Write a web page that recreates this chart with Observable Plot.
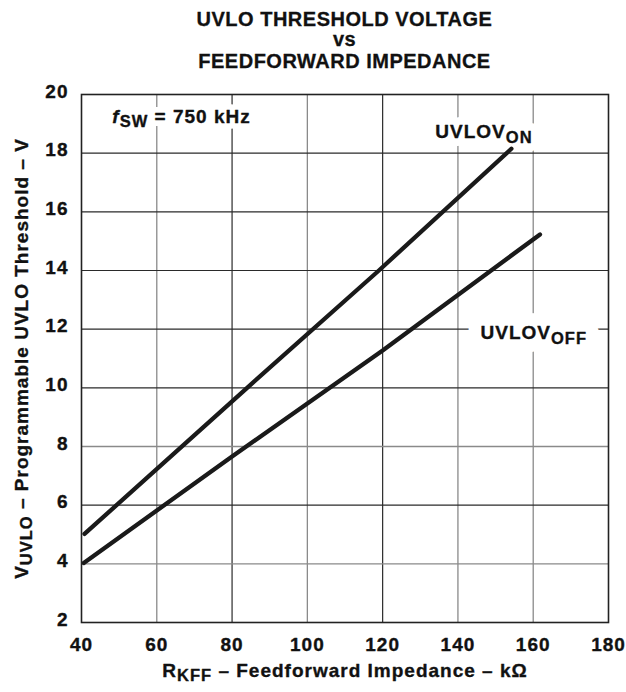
<!DOCTYPE html>
<html>
<head>
<meta charset="utf-8">
<script src="https://cdn.jsdelivr.net/npm/d3@7"></script>
<script src="https://cdn.jsdelivr.net/npm/@observablehq/plot@0.6"></script>
<style>
  body { margin: 0; background: #fff; }
  #wrap { width: 626px; }
  #title { position: relative; height: 80px; font-family: "Liberation Sans", Arial, sans-serif; font-weight: bold; font-size: 20px; letter-spacing: 0.5px; color: #111; -webkit-text-stroke: 0.3px #111; }
  #title div { position: absolute; left: 62px; width: 565px; text-align: center; line-height: 18px; white-space: nowrap; }
</style>
</head>
<body>
<div id="wrap">
  <div id="title">
    <div style="top:9.8px">UVLO THRESHOLD VOLTAGE</div>
    <div style="top:30px">vs</div>
    <div style="top:52px">FEEDFORWARD IMPEDANCE</div>
  </div>
  <div id="chart"></div>
</div>
<script>
// ---- data ----
const xTicks = [40, 60, 80, 100, 120, 140, 160, 180];
const yTicks = [2, 4, 6, 8, 10, 12, 14, 16, 18, 20];

// UVLOV_ON curve (R_KFF in kΩ, threshold in V)
const onR = [40.8, 84, 119, 154.2];
const onV = [5.02, 10.0, 14.0, 18.15];

// UVLOV_OFF curve
const offR = [40.6, 80, 120, 161.8];
const offV = [4.03, 7.66, 11.27, 15.23];

// annotation texts
const noteText = ["*{f}_{SW} = 750 kHz"];
const noteX = [48.2];
const noteY = [19.25];
const onLabel = ["UVLOV_{ON}"];
const onLabelX = [134.0];
const onLabelY = [18.72];
const offLabel = ["UVLOV_{OFF}"];
const offLabelX = [146.0];
const offLabelY = [11.87];

const xTitle = "R_{KFF} – Feedforward Impedance – kΩ";
const yTitle = "V_{UVLO} – Programmable UVLO Threshold – V";

// ---- tables ----
const onData = onR.map((r, i) => ({r, v: onV[i]}));
const offData = offR.map((r, i) => ({r, v: offV[i]}));
const mk = (t, xs, ys) => t.map((s, i) => ({s, x: xs[i], y: ys[i]}));

const lightX = xTicks.filter(v => v === 60 || v === 100 || v === 140 || v === 160);
const darkX = xTicks.filter(v => v === 80 || v === 120);
const lightY = yTicks.filter(v => v === 4 || v === 8);
const darkY = yTicks.filter(v => v !== 2 && v !== 20 && v !== 4 && v !== 8);

const FONT = '"Liberation Sans", Arial, sans-serif';
const INK = "#111";
const bold = {stroke: INK, strokeWidth: 0.35};

const notes = [
  [mk(noteText, noteX, noteY), 12],
  [mk(onLabel, onLabelX, onLabelY), 16],
  [mk(offLabel, offLabelX, offLabelY), 26]
];

const plot = Plot.plot({
  width: 626,
  height: 612,
  marginTop: 14,
  marginBottom: 70,
  marginLeft: 81,
  marginRight: 18,
  style: {fontFamily: FONT, fontSize: "19px", fontWeight: "bold", letterSpacing: "1px", color: INK, background: "#fff"},
  x: {domain: [40, 180]},
  y: {domain: [2, 20]},
  marks: [
    Plot.ruleX(lightX, {stroke: "#8a8a8a", strokeWidth: 1.3}),
    Plot.ruleX(darkX, {stroke: "#2a2a2a", strokeWidth: 1.2}),
    Plot.ruleY(lightY, {stroke: "#8a8a8a", strokeWidth: 1.3}),
    Plot.ruleY(darkY, {stroke: "#2a2a2a", strokeWidth: 1.2}),
    Plot.axisX({ticks: xTicks, tickSize: 0, tickPadding: 15, label: null, fontSize: 19, tickFormat: d => String(d), textStroke: INK, textStrokeWidth: 0.35}),
    Plot.axisY({ticks: yTicks, tickSize: 0, tickPadding: 13, label: null, fontSize: 19, dy: -3, tickFormat: d => String(d), textStroke: INK, textStrokeWidth: 0.35}),
    // white halos behind the annotations (gaps in the grid)
    ...notes.map(([d, w]) => Plot.text(d, {x: "x", y: "y", text: "s", textAnchor: "start", lineAnchor: "middle", fontSize: 19, fill: "white", stroke: "white", strokeWidth: w, strokeLinejoin: "round"})),
    ...notes.map(([d]) => Plot.text(d, {x: "x", y: "y", text: "s", textAnchor: "start", lineAnchor: "middle", fontSize: 19, fill: INK, ...bold})),
    Plot.line(onData, {x: "r", y: "v", stroke: "#1a1a1a", strokeWidth: 4.3}),
    Plot.line(offData, {x: "r", y: "v", stroke: "#1a1a1a", strokeWidth: 4.3}),
    Plot.text([xTitle], {frameAnchor: "bottom", text: d => d, textAnchor: "middle", lineAnchor: "middle", dy: 48, fontSize: 19, fill: INK, ...bold}),
    Plot.text([yTitle], {frameAnchor: "left", text: d => d, textAnchor: "middle", lineAnchor: "middle", dx: -60, rotate: -90, fontSize: 19, fill: INK, ...bold}),
    Plot.frame({stroke: "#222", strokeWidth: 1.6})
  ]
});

// rich text: _{...} subscript, *{...} italic
d3.select(plot).selectAll("text").each(function () {
  const t = this.textContent;
  if (!/[_*]\{/.test(t)) return;
  const parts = t.split(/([_*]\{[^}]*\})/).filter(s => s.length);
  while (this.firstChild) this.removeChild(this.firstChild);
  let shifted = false;
  for (const p of parts) {
    const ts = document.createElementNS("http://www.w3.org/2000/svg", "tspan");
    if (p.startsWith("_{")) {
      ts.textContent = p.slice(2, -1);
      ts.style.fontSize = "87%";
      ts.setAttribute("dy", "4.5");
      shifted = true;
    } else if (p.startsWith("*{")) {
      ts.textContent = p.slice(2, -1);
      ts.style.fontStyle = "italic";
      if (shifted) { ts.setAttribute("dy", "-4.5"); shifted = false; }
    } else {
      ts.textContent = p;
      if (shifted) { ts.setAttribute("dy", "-4.5"); shifted = false; }
    }
    this.appendChild(ts);
  }
});

document.getElementById("chart").appendChild(plot);
</script>
</body>
</html>
